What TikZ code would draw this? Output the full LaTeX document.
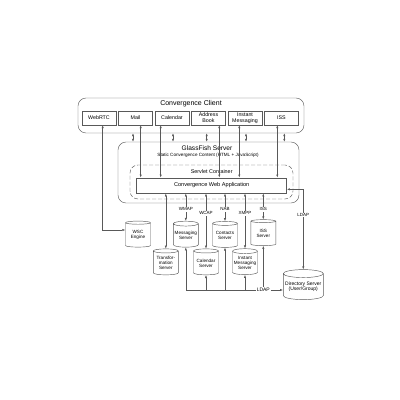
\documentclass[tikz,border=0pt]{standalone}
\usepackage{fontspec}
\setmainfont{Liberation Sans}
\usetikzlibrary{arrows.meta,shapes.geometric,shadows}

\tikzset{
  frame/.style={draw=black!65, line width=0.45pt, rounded corners=8pt, minimum width=#1},
  clientbox/.style={draw=black!65, fill=white, line width=0.45pt, inner sep=0pt,
    minimum width=34pt, minimum height=14pt, align=center,
    font=\fontsize{5.3}{5.8}\selectfont,
    drop shadow={shadow xshift=0.7pt, shadow yshift=-0.7pt, fill=black!50}},
  server/.style={cylinder, shape border rotate=90, aspect=0.22, draw=black!65,
    line width=0.45pt, inner sep=0pt, minimum width=25pt, minimum height=26pt,
    align=center, font=\fontsize{4.6}{5.2}\selectfont},
  link/.style={draw=black!65, line width=0.45pt,
    {Latex[length=3pt,width=2.2pt]}-{Latex[length=3pt,width=2.2pt]}},
  upto/.style={draw=black!65, line width=0.45pt, {Latex[length=3pt,width=2.2pt]}-},
  downto/.style={draw=black!65, line width=0.45pt, -{Latex[length=3pt,width=2.2pt]}},
  proto/.style={fill=white, inner sep=0.8pt, font=\fontsize{4.5}{5}\selectfont}
}

\begin{document}
\begin{tikzpicture}[x=1pt,y=-1pt]

\useasboundingbox (0,0) rectangle (400,400);

% Convergence Client
\node[frame=226pt, minimum height=35pt] (client) at (191,115.5) {};
\node[font=\fontsize{7}{8}\selectfont] (clienttitle) at (191,104) {Convergence Client};
\foreach \name/\label [count=\i from 0] in {webrtc/WebRTC, mail/Mail, calendar/Calendar,
    book/Address\\Book, im/Instant\\Messaging, iss/ISS}
{
\node[clientbox] (\name) at (99+36.5*\i,118) {\label};
}

% GlassFish Server
\node[frame=181pt, minimum height=61pt] (glassfish) at (208.5,172.5) {};
\node[font=\fontsize{6.6}{7.5}\selectfont] (gftitle) at (207,148.3) {GlassFish Server};
\node[font=\fontsize{4.6}{5}\selectfont] (gfsub) at (208,155.7) {Static Convergence Content (HTML + JavaScript)};

% Servlet container
\node[frame=163pt, minimum height=34pt, dash pattern=on 4pt off 2pt] (servlet) at (211.5,182) {};
\node[font=\fontsize{5.4}{6}\selectfont] (servlettitle) at (211.7,172) {Servlet Container};
\node[draw=black!65, fill=white, line width=0.45pt, minimum width=150pt, minimum height=15.5pt,
  inner sep=0pt, font=\fontsize{5.6}{6}\selectfont,
  drop shadow={shadow xshift=0.7pt, shadow yshift=-0.7pt, fill=black!50}] (app) at (211.7,185.5)
  {Convergence Web Application};

% Servers
\node[server] (wsc) at (138,235) {WSC\\Engine};
\node[server] (msg) at (185.8,235.5) {Messaging\\Server};
\node[server] (contacts) at (225,235.5) {Contacts\\Server};
\node[server] (isssrv) at (263.3,233.5) {ISS\\Server};
\node[server] (transform) at (165.8,263) {Transfor-\\mation\\Server};
\node[server] (calsrv) at (206,263) {Calendar\\Server};
\node[server] (imsrv) at (245,263) {Instant\\Messaging\\Server};
\node[server, minimum width=40pt, minimum height=30pt, font=\fontsize{5}{5.8}\selectfont]
  (dir) at (303.3,286.7) {Directory Server\\(User/Group)};

% Client to GlassFish
\foreach \src/\dx in {mail/-2.5, calendar/1, book/-1.8, im/1, iss/2.8}
{
\path ([xshift=\dx pt]\src.south) coordinate (d);
\draw[link, dash pattern=on 2.5pt off 1.5pt] (d |- client.south) -- (d |- glassfish.north);
}

% Client to web application
\foreach \src/\dx in {mail/5.2, calendar/-11.3, book/10.8, im/-5.7, iss/-4.2}
{
\path ([xshift=\dx pt]\src.south) coordinate (s);
\draw[link] (s) -- (s |- app.north);
}
\path ([xshift=3.7pt]webrtc.south) coordinate (s);
\draw[link] (s) |- ([yshift=5pt]wsc.west);

% Web application to servers
\coordinate (row1) at (0,209.3);
\coordinate (row2) at (0,213.3);
\draw[link] (transform.north |- app.south) -- (transform.north);
\foreach \srv/\lbl/\row in {msg/WMAP/row1, calsrv/WCAP/row2, contacts/NAB/row1,
    imsrv/XMPP/row2, isssrv/ISS/row1}
{
\draw[link] (\srv.north |- app.south) -- (\srv.north);
\node[proto] (\srv-lbl) at (\srv.north |- \row) {\lbl};
}

% LDAP
\draw[link] ([yshift=-3.8pt]app.east) -| node[proto, pos=0.66] (ldap1) {LDAP} (dir.north);
\coordinate (bus) at (0,290);
\node[proto, font=\fontsize{5}{5.5}\selectfont] (ldap2) at (isssrv.south |- bus) {LDAP};
\draw[upto] (msg.south) |- (ldap2.west);
\foreach \srv in {calsrv, contacts, imsrv}
{
\draw[upto] (\srv.south) -- (\srv.south |- bus);
}
\draw[upto] (isssrv.south) -- (ldap2.north);
\draw[downto] (ldap2.east) -- (ldap2.east -| dir.west);

\end{tikzpicture}
\end{document}
